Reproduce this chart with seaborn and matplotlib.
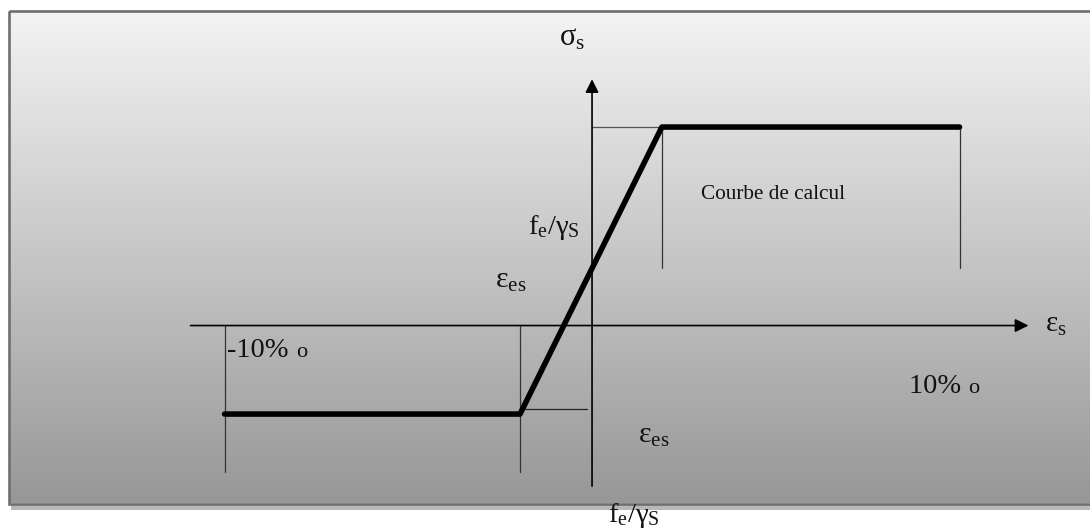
import numpy as np
import pandas as pd
import seaborn as sns
import matplotlib.pyplot as plt
from matplotlib.patches import Rectangle

sns.set_style("white")
plt.rcParams["font.family"] = ["Liberation Serif", "DejaVu Serif"]
plt.rcParams["mathtext.fontset"] = "custom"
plt.rcParams["mathtext.rm"] = "Liberation Serif"
plt.rcParams["mathtext.it"] = "Liberation Serif:italic"

# design stress-strain curve of steel (strain in per mille, stress / (fe/gamma_s))
strain = [-10.0, -1.96, 1.9, 10.0]
stress = [-0.446, -0.446, 1.0, 1.0]
eps_es = [-1.96, 1.9]      # elastic limit strains
eps_max = [-10.0, 10.0]    # ultimate strains
guide_low = -0.42          # thin helper line under the compression plateau

curve = pd.DataFrame({"strain": strain, "stress": stress})

fig = plt.figure(figsize=(10.9, 5.29), dpi=100)

# background panel with vertical grey gradient (pixel coordinates)
bg = fig.add_axes([0, 0, 1, 1])
bg.set_xlim(0, 1090)
bg.set_ylim(529, 0)
bg.axis("off")
grad = np.linspace(0, 1, 256).reshape(-1, 1)
bg.imshow(grad, cmap=plt.matplotlib.colors.LinearSegmentedColormap.from_list(
    "g", ["#f3f3f3", "#c6c6c6", "#979797"]), aspect="auto",
    extent=[9, 1095, 503, 11], zorder=0)
bg.add_patch(Rectangle((11, 504), 1090, 6, color="#b8b8b8", lw=0, zorder=1))
bg.add_patch(Rectangle((8.5, 10.5), 1090, 493, fill=False, ec="#6f6f6f", lw=1.9, zorder=2))

# main diagram
ax = fig.add_axes([0, 0, 1, 1], facecolor="none")
ax.set_xlim(-16.11, 13.55)
ax.set_ylim(-1.025, 1.640)
ax.axis("off")

sns.lineplot(data=curve, x="strain", y="stress", color="black", lw=4.0,
             sort=False, ax=ax, zorder=5)

# axes with arrows
ax.annotate("", xy=(11.95, 0), xytext=(-11.0, 0),
            arrowprops=dict(arrowstyle="-|>", color="black", lw=1.2, mutation_scale=20))
ax.annotate("", xy=(0, 1.255), xytext=(0, -0.823),
            arrowprops=dict(arrowstyle="-|>", color="black", lw=1.2, mutation_scale=20))

# helper lines
ax.plot([0, eps_es[1]], [stress[2], stress[2]], color="#555555", lw=0.9)
ax.plot([eps_es[0], -0.14], [guide_low, guide_low], color="#222222", lw=0.9)
for e in [eps_es[1], eps_max[1]]:
    ax.plot([e, e], [stress[2], 0.288], color="#333333", lw=0.9)
for e in [eps_es[0], eps_max[0]]:
    ax.plot([e, e], [0, -0.737], color="#333333", lw=0.9)

# labels
kw = dict(ha="left", va="baseline", color="#111111")
ax.text(-0.90, 1.413, r"σ$_{\mathrm{s}}$", fontsize=22, **kw)
ax.text(12.33, -0.033, r"ε$_{\mathrm{s}}$", fontsize=21, **kw)
ax.text(-1.74, 0.461, r"f$_{\mathrm{e}}$/γ$_{\mathrm{S}}$", fontsize=20.5, **kw)
ax.text(0.435, -0.99, r"f$_{\mathrm{e}}$/γ$_{\mathrm{S}}$", fontsize=20.5, **kw)
ax.text(-2.64, 0.189, r"ε$_{\mathrm{es}}$", fontsize=21.5, **kw)
ax.text(1.25, -0.592, r"ε$_{\mathrm{es}}$", fontsize=21.5, **kw)
ax.text(2.97, 0.637, "Courbe de calcul", fontsize=15.3, **kw)
t1 = ax.text(-9.93, -0.159, "-10% ", fontsize=20.5, **kw)
ax.annotate("o", xy=(1, 0.06), xycoords=t1, fontsize=16, ha="left", va="bottom", color="#111111")
t2 = ax.text(8.63, -0.340, "10% ", fontsize=20.5, **kw)
ax.annotate("o", xy=(1, 0.06), xycoords=t2, fontsize=16, ha="left", va="bottom", color="#111111")

fig.savefig("out.png", dpi=100)
